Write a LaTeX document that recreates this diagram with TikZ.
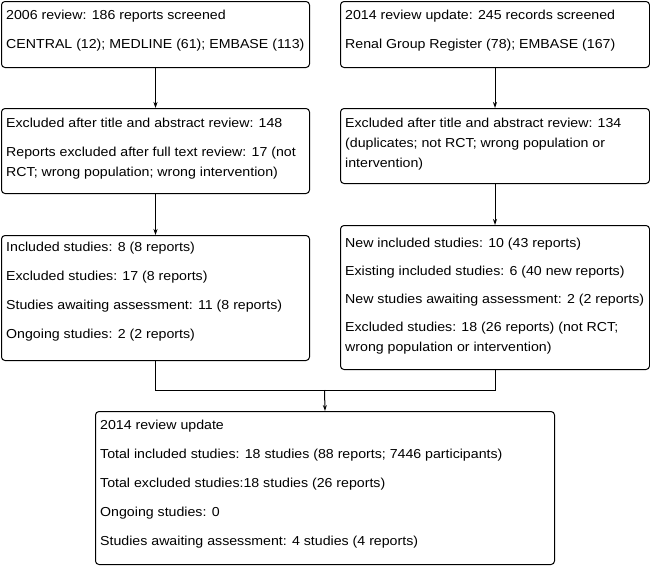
\documentclass[tikz,border=0pt]{standalone}
\usepackage{fontspec}
\setmainfont{Liberation Sans}[FakeStretch=1.09]
\usetikzlibrary{arrows.meta}
\begin{document}
\begin{tikzpicture}[x=1pt,y=-1pt,
  box/.style={draw=black, line width=1pt, rounded corners=3.5pt, inner sep=0pt},
  txt/.style={anchor=north west, inner sep=0pt, align=left, font=\fontsize{13}{20}\selectfont},
  link/.style={line width=1pt},
  arr/.style={line width=1pt, -{Stealth[length=6pt,width=4pt]}}]
\useasboundingbox (0,0) rectangle (650,565);
% boxes
\newcommand{\mkbox}[5]{\node[box, minimum width=#4-#2, minimum height=#5-#3, anchor=north west] (#1) at (#2,#3) {};}
\mkbox{A}{1}{1}{309}{67}
\mkbox{B}{1}{108}{309}{193}
\mkbox{C}{1}{235}{309}{360}
\mkbox{RA}{340}{1}{649}{67}
\mkbox{RB}{340}{108}{649}{183}
\mkbox{RC}{340}{225}{649}{369}
\mkbox{D}{95}{411}{554}{564}
% texts
\node[txt] (tA) at (6,19-14) {\strut 2006 review: 186 reports screened\\[9pt]\strut CENTRAL (12); MEDLINE (61); EMBASE (113)};
\node[txt] (tB) at (6,127.5-14) {\strut Excluded after title and abstract review: 148\\[9pt]\strut Reports excluded after full text review: 17 (not\\\strut RCT; wrong population; wrong intervention)};
\node[txt] (tC) at (6,251-14) {\strut Included studies: 8 (8 reports)\\[9pt]\strut Excluded studies: 17 (8 reports)\\[9pt]\strut Studies awaiting assessment: 11 (8 reports)\\[9pt]\strut Ongoing studies: 2 (2 reports)};
\node[txt] (tRA) at (345,19-14) {\strut 2014 review update: 245 records screened\\[9pt]\strut Renal Group Register (78); EMBASE (167)};
\node[txt] (tRB) at (345,127.5-14) {\strut Excluded after title and abstract review: 134\\\strut (duplicates; not RCT; wrong population or\\\strut intervention)};
\node[txt] (tRC) at (345,247.5-14) {\strut New included studies: 10 (43 reports)\\[8pt]\strut Existing included studies: 6 (40 new reports)\\[8pt]\strut New studies awaiting assessment: 2 (2 reports)\\[8pt]\strut Excluded studies: 18 (26 reports) (not RCT;\\\strut wrong population or intervention)};
\node[txt] (tD) at (100,429.5-14) {\strut 2014 review update\\[9pt]\strut Total included studies: 18 studies (88 reports; 7446 participants)\\[9pt]\strut Total excluded studies:18 studies (26 reports)\\[9pt]\strut Ongoing studies: 0\\[9pt]\strut Studies awaiting assessment: 4 studies (4 reports)};
% connectors
\draw[arr] (A.south) -- (B.north);
\draw[arr] (B.south) -- (C.north);
\draw[arr] (RA.south) -- (RB.north);
\draw[arr] (RB.south) -- (RC.north);
\coordinate (m) at (324.5,390);
\draw[link] (C.south) |- (m);
\draw[link] (RC.south) |- (m);
\draw[arr] (m) -- (D.north);
\end{tikzpicture}
\end{document}
